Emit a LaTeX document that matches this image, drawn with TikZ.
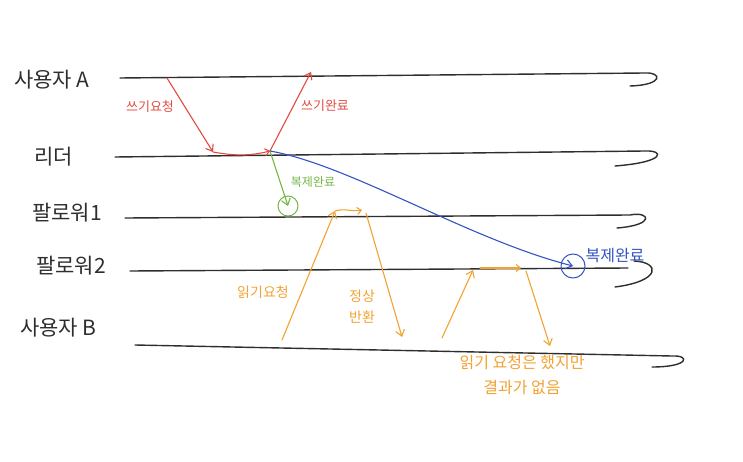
\documentclass[tikz,border=0pt]{standalone}
\usepackage{fontspec}
\newfontfamily\kr{Noto Sans CJK KR}
\usetikzlibrary{arrows.meta}
\definecolor{ink}{HTML}{2E2E2E}
\definecolor{wred}{HTML}{E24A40}
\definecolor{wgreen}{HTML}{74B646}
\definecolor{wblue}{HTML}{3454C4}
\definecolor{worange}{HTML}{F2A232}
\begin{document}
\begin{tikzpicture}[x=1pt,y=-1pt,
  tl/.style={ink, line width=1.4pt, line cap=round},
  lab/.style={font=\kr\fontsize{21}{23}\selectfont, text=ink, anchor=west, inner sep=0pt},
  msg/.style={line width=1.1pt, line cap=round, -{Straight Barb[length=6pt,width=9pt]}},
  seg/.style={line width=1.1pt, line cap=round, -{Straight Barb[length=4pt,width=7pt]}},
  note/.style={inner sep=0pt, align=center},
  ring/.style={circle, draw, line width=1pt, inner sep=0pt}]
\useasboundingbox (0,0) rectangle (743,462);
% timeline labels
\node[lab] (lA) at (14,80) {사용자 A};
\node[lab] (lL) at (34,157) {리더};
\node[lab] (lF1) at (32,213) {팔로워1};
\node[lab] (lF2) at (36,266) {팔로워2};
\node[lab] (lB) at (20,328) {사용자 B};
% timeline coordinates
\coordinate (A0) at (120,78);  \coordinate (A1) at (645,73);  \coordinate (Ah) at (630,86);
\coordinate (L0) at (115,157); \coordinate (L1) at (645,151); \coordinate (Lh) at (615,166);
\coordinate (F0) at (125,218); \coordinate (F1) at (630,215); \coordinate (Fh) at (617,228);
\coordinate (G0) at (130,271); \coordinate (G1) at (628,268); \coordinate (Gs) at (634,261); \coordinate (Gh) at (615,287);
\coordinate (B0) at (135,345); \coordinate (B1) at (672,356); \coordinate (Bh) at (652,367);
% timelines
\draw[tl] (A0) -- (A1) .. controls (662,72) and (664,85) .. (Ah);
\draw[tl] (L0) -- (L1) .. controls (664,150) and (667,162) .. (Lh);
\draw[tl] (F0) -- (F1) .. controls (650,211) and (656,225) .. (Fh);
\draw[tl] (G0) -- (G1);
\draw[tl] (Gs) .. controls (660,262) and (662,281) .. (Gh);
\draw[tl] (B0) -- (B1) .. controls (690,355) and (690,367) .. (Bh);
% write path (red)
\coordinate (w0) at (167,78);
\coordinate (w1) at (213,152);
\coordinate (w2) at (270,151);
\coordinate (w3) at (311,72);
\draw[msg, wred] (w0) -- (w1);
\draw[seg, wred] (w1) .. controls (235,156) and (250,156) .. (w2);
\draw[msg, wred] (w2) -- (w3);
\node[note, text=wred, font=\kr\fontsize{13}{15}\selectfont] (tw) at (150,107) {쓰기요청};
\node[note, text=wred, font=\kr\fontsize{13}{15}\selectfont] (tc) at (325,106) {쓰기완료};
% replication to follower 1 (green)
\node[ring, wgreen, minimum size=20pt] (rg) at (288,206) {};
\draw[msg, wgreen] (w2) -- (rg.center);
\node[note, text=wgreen, font=\kr\fontsize{12}{14}\selectfont] (tg) at (313,182) {복제완료};
% replication to follower 2 (blue)
\node[ring, wblue, minimum size=24pt] (rb) at (573,266) {};
\draw[msg, wblue] (w2) .. controls (350,165) and (470,240) .. (rb.center);
\node[note, text=wblue, font=\kr\fontsize{16}{18}\selectfont] (tb) at (615,256) {복제완료};
% read via follower 1 (orange)
\coordinate (r0) at (282,340);
\coordinate (r1) at (335,211);
\coordinate (r2) at (362,210);
\coordinate (r3) at (366,213);
\coordinate (r4) at (402,337);
\draw[msg, worange] (r0) -- (r1);
\draw[seg, worange] (r1) .. controls (345,208) and (352,212) .. (r2);
\draw[msg, worange] (r3) -- (r4);
\node[note, text=worange, font=\kr\fontsize{14}{16}\selectfont] (tr) at (263,292) {읽기요청};
\node[note, text=worange, font=\kr\fontsize{14}{21}\selectfont] (tn) at (362,307) {정상\\반환};
% read via follower 2 (orange)
\coordinate (s0) at (442,338);
\coordinate (s1) at (473,270);
\coordinate (s2) at (480,268);
\coordinate (s3) at (521,268);
\coordinate (s4) at (526,271);
\coordinate (s5) at (550,346);
\draw[msg, worange] (s0) -- (s1);
\draw[seg, worange] (s2) -- (s3);
\draw[msg, worange] (s4) -- (s5);
\node[note, text=worange, font=\kr\fontsize{16}{25}\selectfont] (tf) at (522,375) {읽기 요청은 했지만\\결과가 없음};
\end{tikzpicture}
\end{document}
